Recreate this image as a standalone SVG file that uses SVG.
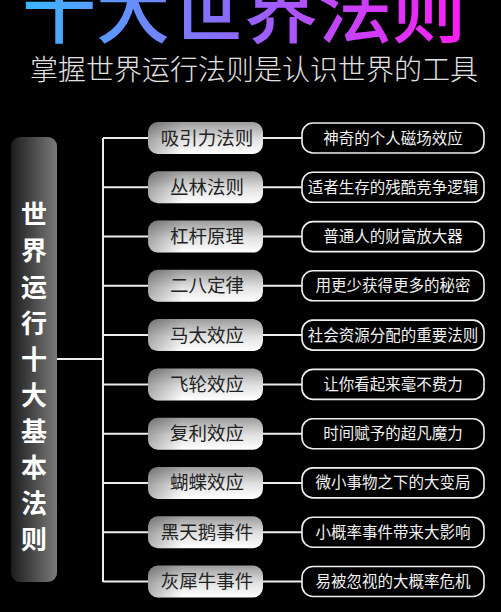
<svg xmlns="http://www.w3.org/2000/svg" width="501" height="612" viewBox="0 0 501 612">
<defs>
<linearGradient id="gTitle" x1="25" y1="0" x2="465" y2="0" gradientUnits="userSpaceOnUse">
<stop offset="0" stop-color="#3bb6ff"/>
<stop offset="0.45" stop-color="#8a6cff"/>
<stop offset="1" stop-color="#ff1cf4"/>
</linearGradient>
<linearGradient id="gSide" x1="0" y1="0" x2="1" y2="0">
<stop offset="0" stop-color="#1c1c1c"/>
<stop offset="1" stop-color="#7a7a7a"/>
</linearGradient>
<linearGradient id="gNode" x1="0" y1="0" x2="0" y2="1">
<stop offset="0" stop-color="#9c9c9c"/>
<stop offset="0.55" stop-color="#e2e2e2"/>
<stop offset="1" stop-color="#ffffff"/>
</linearGradient>
<linearGradient id="gShade" x1="0" y1="0" x2="1" y2="0">
<stop offset="0" stop-color="#000" stop-opacity="0.28"/>
<stop offset="0.3" stop-color="#000" stop-opacity="0"/>
</linearGradient>
</defs>
<style>
.cjk{font-family:"Noto Sans CJK SC","Noto Sans",sans-serif;}
.title{font-size:74px;font-weight:500;fill:url(#gTitle);}
.sub{font-size:28px;font-weight:300;fill:#e2e2e2;}
.vt{font-size:26px;font-weight:700;fill:#ffffff;text-anchor:middle;}
.ln{stroke:#ececec;stroke-width:2;fill:none;}
.lbox{fill:url(#gNode);}
.lshade{fill:url(#gShade);}
.ltxt{font-size:18.5px;fill:#222;text-anchor:middle;}
.rbox{fill:#000;stroke:#f0f0f0;stroke-width:1.6;}
.rtxt{font-size:15.5px;fill:#f2f2f2;text-anchor:middle;}
</style>
<rect width="501" height="612" fill="#000"/>
<g id="title">
<text class="cjk title" x="244" y="37" text-anchor="middle">十大世界法则</text>
<text class="cjk sub" x="254" y="80" text-anchor="middle">掌握世界运行法则是认识世界的工具</text>
</g>
<g id="side">
<rect x="11" y="137" width="46" height="445" rx="9" fill="url(#gSide)"/>
<text class="cjk vt" x="34" y="224">世</text>
<text class="cjk vt" x="34" y="260">界</text>
<text class="cjk vt" x="34" y="297">运</text>
<text class="cjk vt" x="34" y="333">行</text>
<text class="cjk vt" x="34" y="369">十</text>
<text class="cjk vt" x="34" y="405">大</text>
<text class="cjk vt" x="34" y="441">基</text>
<text class="cjk vt" x="34" y="477">本</text>
<text class="cjk vt" x="34" y="513">法</text>
<text class="cjk vt" x="34" y="549">则</text>
</g>
<g id="connectors">
<path class="ln" d="M57 359H103M103 138V582"/>
<path class="ln" d="M103 138H148M263 138H302"/>
<path class="ln" d="M103 187.3H148M263 187.3H302"/>
<path class="ln" d="M103 236.6H148M263 236.6H302"/>
<path class="ln" d="M103 285.8H148M263 285.8H302"/>
<path class="ln" d="M103 335.1H148M263 335.1H302"/>
<path class="ln" d="M103 384.4H148M263 384.4H302"/>
<path class="ln" d="M103 433.7H148M263 433.7H302"/>
<path class="ln" d="M103 482.9H148M263 482.9H302"/>
<path class="ln" d="M103 532.2H148M263 532.2H302"/>
<path class="ln" d="M103 581.5H148M263 581.5H302"/>
</g>
<g id="n1" transform="translate(0,138)">
<rect class="lbox" x="148" y="-16" width="115" height="32" rx="10"/><rect class="lshade" x="148" y="-16" width="115" height="32" rx="10"/>
<text class="cjk ltxt" x="207" y="6.5">吸引力法则</text>
<rect class="rbox" x="302" y="-15" width="182" height="30" rx="11"/>
<text class="cjk rtxt" x="393" y="5.5">神奇的个人磁场效应</text>
</g>
<g id="n2" transform="translate(0,187.3)">
<rect class="lbox" x="148" y="-16" width="115" height="32" rx="10"/><rect class="lshade" x="148" y="-16" width="115" height="32" rx="10"/>
<text class="cjk ltxt" x="207" y="6.5">丛林法则</text>
<rect class="rbox" x="302" y="-15" width="182" height="30" rx="11"/>
<text class="cjk rtxt" x="393" y="5.5">适者生存的残酷竞争逻辑</text>
</g>
<g id="n3" transform="translate(0,236.6)">
<rect class="lbox" x="148" y="-16" width="115" height="32" rx="10"/><rect class="lshade" x="148" y="-16" width="115" height="32" rx="10"/>
<text class="cjk ltxt" x="207" y="6.5">杠杆原理</text>
<rect class="rbox" x="302" y="-15" width="182" height="30" rx="11"/>
<text class="cjk rtxt" x="393" y="5.5">普通人的财富放大器</text>
</g>
<g id="n4" transform="translate(0,285.8)">
<rect class="lbox" x="148" y="-16" width="115" height="32" rx="10"/><rect class="lshade" x="148" y="-16" width="115" height="32" rx="10"/>
<text class="cjk ltxt" x="207" y="6.5">二八定律</text>
<rect class="rbox" x="302" y="-15" width="182" height="30" rx="11"/>
<text class="cjk rtxt" x="393" y="5.5">用更少获得更多的秘密</text>
</g>
<g id="n5" transform="translate(0,335.1)">
<rect class="lbox" x="148" y="-16" width="115" height="32" rx="10"/><rect class="lshade" x="148" y="-16" width="115" height="32" rx="10"/>
<text class="cjk ltxt" x="207" y="6.5">马太效应</text>
<rect class="rbox" x="302" y="-15" width="182" height="30" rx="11"/>
<text class="cjk rtxt" x="393" y="5.5">社会资源分配的重要法则</text>
</g>
<g id="n6" transform="translate(0,384.4)">
<rect class="lbox" x="148" y="-16" width="115" height="32" rx="10"/><rect class="lshade" x="148" y="-16" width="115" height="32" rx="10"/>
<text class="cjk ltxt" x="207" y="6.5">飞轮效应</text>
<rect class="rbox" x="302" y="-15" width="182" height="30" rx="11"/>
<text class="cjk rtxt" x="393" y="5.5">让你看起来毫不费力</text>
</g>
<g id="n7" transform="translate(0,433.7)">
<rect class="lbox" x="148" y="-16" width="115" height="32" rx="10"/><rect class="lshade" x="148" y="-16" width="115" height="32" rx="10"/>
<text class="cjk ltxt" x="207" y="6.5">复利效应</text>
<rect class="rbox" x="302" y="-15" width="182" height="30" rx="11"/>
<text class="cjk rtxt" x="393" y="5.5">时间赋予的超凡魔力</text>
</g>
<g id="n8" transform="translate(0,482.9)">
<rect class="lbox" x="148" y="-16" width="115" height="32" rx="10"/><rect class="lshade" x="148" y="-16" width="115" height="32" rx="10"/>
<text class="cjk ltxt" x="207" y="6.5">蝴蝶效应</text>
<rect class="rbox" x="302" y="-15" width="182" height="30" rx="11"/>
<text class="cjk rtxt" x="393" y="5.5">微小事物之下的大变局</text>
</g>
<g id="n9" transform="translate(0,532.2)">
<rect class="lbox" x="148" y="-16" width="115" height="32" rx="10"/><rect class="lshade" x="148" y="-16" width="115" height="32" rx="10"/>
<text class="cjk ltxt" x="207" y="6.5">黑天鹅事件</text>
<rect class="rbox" x="302" y="-15" width="182" height="30" rx="11"/>
<text class="cjk rtxt" x="393" y="5.5">小概率事件带来大影响</text>
</g>
<g id="n10" transform="translate(0,581.5)">
<rect class="lbox" x="148" y="-16" width="115" height="32" rx="10"/><rect class="lshade" x="148" y="-16" width="115" height="32" rx="10"/>
<text class="cjk ltxt" x="207" y="6.5">灰犀牛事件</text>
<rect class="rbox" x="302" y="-15" width="182" height="30" rx="11"/>
<text class="cjk rtxt" x="393" y="5.5">易被忽视的大概率危机</text>
</g>
</svg>
